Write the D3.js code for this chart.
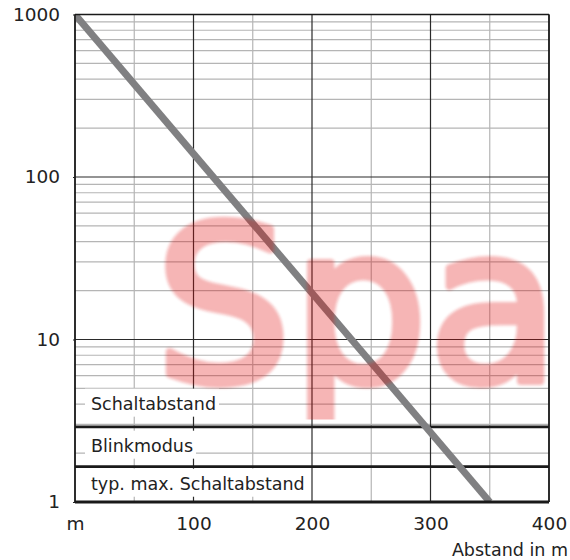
<!DOCTYPE html>
<html>
<head>
<meta charset="utf-8">
<script src="https://cdn.jsdelivr.net/npm/d3@7"></script>
<style>
  body { margin: 0; background: #fff; }
  svg { display: block; font-family: "DejaVu Sans", sans-serif; }
</style>
</head>
<body>
<div id="chart"></div>
<script>
// values
const xTicks = [0, 100, 200, 300, 400];
const xTickLabels = ["m", "100", "200", "300", "400"];
const xMinor = [50, 150, 250, 350];
const yTicks = [1, 10, 100, 1000];
const yMinor = [2, 3, 4, 5, 6, 7, 8, 9, 20, 30, 40, 50, 60, 70, 80, 90, 200, 300, 400, 500, 600, 700, 800, 900];
const curveX = [0, 350];
const curveY = [1000, 1];
const limitValues = [2.9, 1.65];
const zoneLabels = ["Schaltabstand", "Blinkmodus", "typ. max. Schaltabstand"];
const zoneLabelValues = [3.7, 2.04, 1.19];
const xTitle = "Abstand in m";
const watermark = "Spa";

const width = 570, height = 560;
const margin = {top: 14.5, right: 21, bottom: 58, left: 75};
const w = width - margin.left - margin.right;
const h = height - margin.top - margin.bottom;
const fontSize = 17.5;
const tickFont = 18.5;

const svg = d3.select("#chart").append("svg")
    .attr("width", width)
    .attr("height", height);

const defs = svg.append("defs");
defs.append("clipPath").attr("id", "plotclip")
    .append("rect").attr("width", w).attr("height", h);
defs.append("clipPath").attr("id", "wmclip")
    .append("rect").attr("x", -20).attr("y", 0).attr("width", w + 40).attr("height", 405);
defs.append("filter").attr("id", "soft")
    .append("feGaussianBlur").attr("stdDeviation", 1.6);

const g = svg.append("g")
    .attr("transform", "translate(" + margin.left + "," + margin.top + ")");

const x = d3.scaleLinear().domain([0, 400]).range([0, w]);
const y = d3.scaleLog().domain([1, 1000]).range([h, 0]);

// minor grid
g.selectAll(".vminor").data(xMinor).enter().append("line")
    .attr("x1", d => x(d)).attr("x2", d => x(d))
    .attr("y1", 0).attr("y2", h)
    .attr("stroke", "#b5b5b5").attr("stroke-width", 1.2);
g.selectAll(".hminor").data(yMinor).enter().append("line")
    .attr("x1", 0).attr("x2", w)
    .attr("y1", d => y(d)).attr("y2", d => y(d))
    .attr("stroke", "#b5b5b5").attr("stroke-width", 1.2);

// major grid
g.selectAll(".vmajor").data(xTicks).enter().append("line")
    .attr("x1", d => x(d)).attr("x2", d => x(d))
    .attr("y1", 0).attr("y2", h)
    .attr("stroke", "#2a2a2a").attr("stroke-width", 1.2);
g.selectAll(".hmajor").data(yTicks).enter().append("line")
    .attr("x1", 0).attr("x2", w)
    .attr("y1", d => y(d)).attr("y2", d => y(d))
    .attr("stroke", "#2a2a2a").attr("stroke-width", 1.2);

// zone labels with white boxes
const labels = g.selectAll(".zone").data(zoneLabels).enter().append("g");
labels.append("text")
    .attr("x", 16)
    .attr("y", (d, i) => y(zoneLabelValues[i]))
    .attr("font-size", fontSize)
    .attr("fill", "#222")
    .text(d => d);
labels.each(function() {
    const t = d3.select(this).select("text");
    const b = t.node().getBBox();
    d3.select(this).insert("rect", "text")
        .attr("x", b.x - 6).attr("y", b.y - 5)
        .attr("width", b.width + 9).attr("height", b.height + 8)
        .attr("fill", "#fff");
});

// limit lines
g.selectAll(".limit").data(limitValues).enter().append("line")
    .attr("x1", 0).attr("x2", w)
    .attr("y1", d => y(d)).attr("y2", d => y(d))
    .attr("stroke", "#1a1a1a").attr("stroke-width", 2.6);

// curve
const line = d3.line().x(d => x(d[0])).y(d => y(d[1]));
g.append("path")
    .datum(curveX.map((d, i) => [d, curveY[i]]))
    .attr("clip-path", "url(#plotclip)")
    .attr("d", line)
    .attr("fill", "none")
    .attr("stroke", "#808082")
    .attr("stroke-width", 7);

// frame
g.append("line").attr("x1", 0).attr("x2", w).attr("y1", 0).attr("y2", 0)
    .attr("stroke", "#1a1a1a").attr("stroke-width", 1.3);
g.append("line").attr("x1", 0).attr("x2", 0).attr("y1", 0).attr("y2", h)
    .attr("stroke", "#1a1a1a").attr("stroke-width", 1.6);
g.append("line").attr("x1", w).attr("x2", w).attr("y1", 0).attr("y2", h)
    .attr("stroke", "#1a1a1a").attr("stroke-width", 1.6);
g.append("line").attr("x1", 0).attr("x2", w).attr("y1", h).attr("y2", h)
    .attr("stroke", "#1a1a1a").attr("stroke-width", 2.8);

// watermark
g.append("g").attr("clip-path", "url(#wmclip)")
  .append("text")
    .attr("x", 80)
    .attr("y", 366)
    .attr("font-size", 215)
    .attr("fill", "#e01010")
    .attr("stroke", "#e01010")
    .attr("stroke-width", 8)
    .attr("stroke-linejoin", "round")
    .attr("opacity", 0.3)
    .attr("filter", "url(#soft)")
    .text(watermark);

// axes
g.append("g")
    .call(d3.axisLeft(y).tickValues(yTicks).tickFormat(d3.format("d")).tickSize(2).tickPadding(13))
    .attr("font-size", tickFont)
    .attr("font-family", "DejaVu Sans")
    .call(a => a.select(".domain").remove())
    .call(a => a.selectAll(".tick line").attr("stroke", "#222"))
    .call(a => a.selectAll(".tick text").attr("fill", "#222"));

g.append("g")
    .attr("transform", "translate(0," + h + ")")
    .call(d3.axisBottom(x).tickValues(xTicks).tickFormat((d, i) => xTickLabels[i]).tickSize(0).tickPadding(15))
    .attr("font-size", tickFont)
    .attr("font-family", "DejaVu Sans")
    .call(a => a.select(".domain").remove())
    .call(a => a.selectAll(".tick text").attr("fill", "#222"));

svg.append("text")
    .attr("x", width - 2)
    .attr("y", 556)
    .attr("text-anchor", "end")
    .attr("font-size", fontSize)
    .attr("fill", "#222")
    .text(xTitle);
</script>
</body>
</html>
